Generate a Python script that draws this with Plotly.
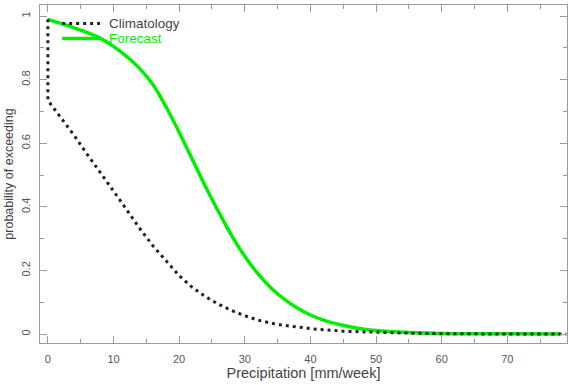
import plotly.graph_objects as go

# Climatology (black dotted)
clim_x = [0, 0, 2, 4, 6, 8, 9, 10, 12, 14, 16, 18, 20, 22, 24, 26, 28, 30, 32, 35, 38, 41, 45, 50, 55, 60, 70, 79]
clim_y = [0.99, 0.735, 0.68, 0.625, 0.565, 0.505, 0.479, 0.45, 0.39, 0.332, 0.278, 0.23, 0.184, 0.147, 0.118,
          0.094, 0.074, 0.058, 0.044, 0.03, 0.022, 0.015, 0.009, 0.005, 0.003, 0.001, 0.0, 0.0]

# Forecast (green)
fc_x = [0, 2, 4, 6, 8, 10, 12, 14, 16, 18, 20, 22, 24, 26, 28, 30, 32, 34, 36, 38, 40, 42, 44, 46, 48, 50, 55, 60, 70, 78]
fc_y = [0.99, 0.977, 0.963, 0.948, 0.93, 0.905, 0.873, 0.835, 0.785, 0.715, 0.635, 0.55, 0.465, 0.385, 0.31,
        0.245, 0.19, 0.145, 0.11, 0.082, 0.06, 0.044, 0.032, 0.023, 0.016, 0.011, 0.005, 0.002, 0.001, 0.0]

x_ticks = [0, 10, 20, 30, 40, 50, 60, 70]
y_ticks = [0, 0.2, 0.4, 0.6, 0.8, 1]
y_tick_labels = ["0", "0.2", "0.4", "0.6", "0.8", "1"]

legend_names = ["Climatology", "Forecast"]

FONT = "Liberation Sans, Arial, sans-serif"
AX = "#9a9a9a"
GREEN = "#00ee00"
BLACK = "#222222"
CLIM_DASH = "3px,4px"

fig = go.Figure()
fig.add_trace(go.Scatter(
    x=fc_x, y=fc_y, mode="lines", name=legend_names[1], showlegend=False,
    line=dict(color=GREEN, width=3.5, shape="spline", smoothing=1.0),
))
fig.add_trace(go.Scatter(
    x=clim_x, y=clim_y, mode="lines", name=legend_names[0], showlegend=False,
    line=dict(color=BLACK, width=3, dash=CLIM_DASH),
))

# manual legend (sample lines + labels), positioned in paper coordinates
leg_x0, leg_x1, leg_tx = 0.042, 0.114, 0.129
leg_rows = [0.9453, 0.9009]
fig.add_shape(type="line", xref="paper", yref="paper", x0=leg_x0, x1=leg_x1, y0=leg_rows[0], y1=leg_rows[0],
              line=dict(color=BLACK, width=3, dash=CLIM_DASH))
fig.add_shape(type="line", xref="paper", yref="paper", x0=leg_x0, x1=leg_x1, y0=leg_rows[1], y1=leg_rows[1],
              line=dict(color=GREEN, width=3.5))
fig.add_annotation(xref="paper", yref="paper", x=leg_tx, y=leg_rows[0], text=legend_names[0], showarrow=False,
                   xanchor="left", yanchor="middle", height=15, borderpad=0,
                   font=dict(family=FONT, size=13.5, color="#444444"))
fig.add_annotation(xref="paper", yref="paper", x=leg_tx, y=leg_rows[1], text=legend_names[1], showarrow=False,
                   xanchor="left", yanchor="middle", height=15, borderpad=0,
                   font=dict(family=FONT, size=13.5, color=GREEN))

axis_common = dict(
    showline=True, linecolor=AX, linewidth=1, mirror="ticks",
    ticks="inside", tickcolor=AX, ticklen=7, tickwidth=1,
    showgrid=False, zeroline=False, automargin=False,
    tickfont=dict(family=FONT, size=11, color="#555555"),
)

fig.update_layout(
    width=569, height=385,
    margin=dict(l=40, r=2, t=5, b=42),
    paper_bgcolor="white", plot_bgcolor="white",
    showlegend=False,
    xaxis=dict(
        range=[-1.2, 79.1], tickvals=x_ticks, ticklabelstandoff=6,
        minor=dict(dtick=5, ticks="inside", ticklen=4, tickcolor=AX),
        title=dict(text="Precipitation [mm/week]", font=dict(family=FONT, size=14.5, color="#444444"), standoff=3),
        **axis_common,
    ),
    yaxis=dict(
        range=[-0.028, 1.035], tickvals=y_ticks, ticktext=y_tick_labels, tickangle=-90, ticklabelstandoff=5,
        minor=dict(dtick=0.1, ticks="inside", ticklen=4, tickcolor=AX),
        title=dict(text="probability of exceeding", font=dict(family=FONT, size=12.5, color="#444444"), standoff=3),
        **axis_common,
    ),
)

fig.write_html("out.html", config={"displayModeBar": False},
               post_script="document.body.style.margin='0';document.body.style.overflow='hidden';")
